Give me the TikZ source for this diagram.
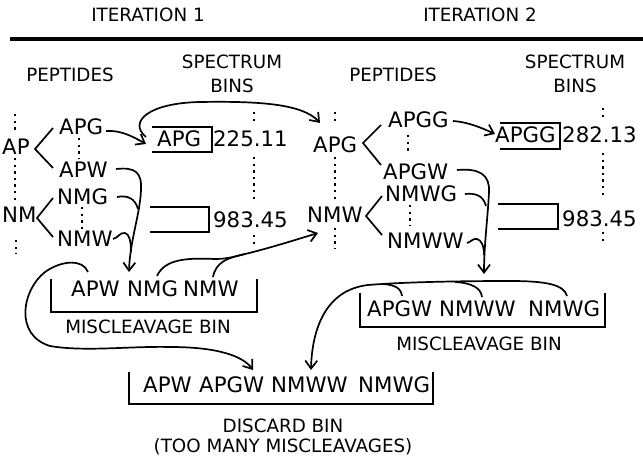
\documentclass[tikz,border=0pt]{standalone}
\usepackage{fontspec}
\setmainfont{DejaVu Sans}
\usetikzlibrary{arrows.meta}
\begin{document}
\begin{tikzpicture}[x=1pt,y=-1pt,
  lab/.style={font=\fontsize{21.3}{25}\selectfont, inner sep=0pt, anchor=base west},
  hdr/.style={font=\fontsize{18.3}{22}\selectfont, inner sep=0pt, anchor=base},
  dots/.style={line width=2.4pt, dash pattern=on 2.4pt off 4.2pt},
  ln/.style={line width=1.7pt},
  binbox/.style={line width=1.6pt},
  arr/.style={line width=1.7pt, -{Straight Barb[length=8pt,width=12pt]}},
]
\useasboundingbox (0,0) rectangle (643,462);

% headers
\node[hdr] (it1) at (148,22) {ITERATION 1};
\node[hdr] (it2) at (480,22) {ITERATION 2};
\coordinate (rulel) at (10,39);
\coordinate (ruler) at (643,39);
\draw[line width=4pt] (rulel) -- (ruler);
\node[hdr] (pep1) at (70,82) {PEPTIDES};
\node[hdr] (spec1) at (232,69) {SPECTRUM};
\node[hdr] (bins1) at (232,93) {BINS};
\node[hdr] (pep2) at (393,82) {PEPTIDES};
\node[hdr] (spec2) at (575,69) {SPECTRUM};
\node[hdr] (bins2) at (575,93) {BINS};

% iteration 1 peptides
\node[lab] (AP) at (2,155) {AP};
\node[lab] (APG) at (59,135) {APG};
\node[lab] (APW) at (59,178) {APW};
\node[lab] (NM) at (2,223) {NM};
\node[lab] (NMG) at (57,205) {NMG};
\node[lab] (NMW) at (57,247) {NMW};
\draw[ln] (53,128) -- (35,149) -- (53,168);
\draw[ln] (53,198) -- (37,218) -- (53,237);

% iteration 1 spectrum bins
\draw[binbox] (152,127) -- (212,127) -- (212,152) -- (152,152);
\node[lab] (bAPG) at (157,147) {APG};
\node[lab] (v225) at (213,147) {225.11};
\draw[binbox] (150,207) -- (209,207) -- (209,232) -- (150,232);
\node[lab] (v983a) at (213,228) {983.45};

% iteration 2 peptides
\node[lab] (APG2) at (313,153) {APG};
\node[lab] (APGG) at (388,128) {APGG};
\node[lab] (APGW) at (383,180) {APGW};
\node[lab] (NMW2) at (307,223) {NMW};
\node[lab] (NMWG) at (385,202) {NMWG};
\node[lab] (NMWW) at (387,249) {NMWW};
\draw[ln] (381,125) -- (363,143) -- (381,165);
\draw[ln] (382,196) -- (366,216) -- (382,235);

% iteration 2 spectrum bins
\draw[binbox] (500,123) -- (560,123) -- (560,149) -- (500,149);
\node[lab] (bAPGG) at (495,143) {APGG};
\node[lab] (v282) at (562,143) {282.13};
\draw[binbox] (498,204) -- (558,204) -- (558,229) -- (498,229);
\node[lab] (v983b) at (562,227) {983.45};

% dotted lines
\draw[dots] (15,114) -- (15,132);
\draw[dots] (15,158) -- (15,203);
\draw[dots] (16,240) -- (16,254);
\draw[dots] (79,138) -- (79,159);
\draw[dots] (82,207) -- (82,229);
\draw[dots] (254,112) -- (254,124);
\draw[dots] (254,157) -- (254,203);
\draw[dots] (254,235) -- (254,248);
\draw[dots] (335,112) -- (335,124);
\draw[dots] (335,157) -- (335,203);
\draw[dots] (335,228) -- (335,248);
\draw[dots] (408,135) -- (408,154);
\draw[dots] (410,205) -- (410,226);
\draw[dots] (603,108) -- (603,121);
\draw[dots] (603,153) -- (603,199);
\draw[dots] (603,232) -- (603,244);

% miscleavage bin 1
\draw[binbox] (51,279) -- (51,312) -- (257,312) -- (257,279);
\node[lab] (mAPW) at (71,297) {APW};
\node[lab] (mNMG) at (127,297) {NMG};
\node[lab] (mNMW) at (183,297) {NMW};
\node[hdr] (mlab1) at (148,334) {MISCLEAVAGE BIN};

% miscleavage bin 2
\draw[binbox] (360,293) -- (360,327) -- (605,327) -- (605,293);
\node[lab] (mAPGW) at (367,317) {APGW};
\node[lab] (mNMWW) at (439,317) {NMWW};
\node[lab] (mNMWG) at (528,317) {NMWG};
\node[hdr] (mlab2) at (479,351) {MISCLEAVAGE BIN};

% discard bin
\draw[binbox] (129,372) -- (129,404) -- (433,404) -- (433,372);
\node[lab] (dAPW) at (143,393) {APW};
\node[lab] (dAPGW) at (199,393) {APGW};
\node[lab] (dNMWW) at (271,393) {NMWW};
\node[lab] (dNMWG) at (358,393) {NMWG};
\node[hdr] (dlab1) at (283,432) {DISCARD BIN};
\node[hdr] (dlab2) at (283,453) {(TOO MANY MISCLEAVAGES)};

% connector end points
\coordinate (APGr) at (106,131);
\coordinate (box1in) at (146,144);
\coordinate (box1out) at (146,137);
\coordinate (APG2in) at (320,123);
\coordinate (APWr) at (116,169);
\coordinate (NMGr) at (117,197);
\coordinate (NMWr) at (113,239);
\coordinate (mbin1in) at (129,272);
\coordinate (APGGr) at (453,121);
\coordinate (box3in) at (495,134);
\coordinate (APGWr) at (457,170);
\coordinate (NMWGr) at (465,194);
\coordinate (NMWWr) at (467,243);
\coordinate (mbin2in) at (484,274);
\coordinate (mNMWt) at (213,277);
\coordinate (mNMGt) at (157,276);
\coordinate (NMW2in) at (318,233);
\coordinate (mAPWt) at (88,272);
\coordinate (dbinin1) at (253,370);
\coordinate (mNMWGt) at (567,296);
\coordinate (mAPGWt) at (402,296);
\coordinate (mNMWWt) at (482,297);
\coordinate (dbinin2) at (311,370);

% connectors, iteration 1
\draw[arr] (APGr) .. controls (120,130) and (132,136) .. (box1in);
\draw[arr] (box1out) .. controls (128,122) and (148,103) .. (200,102)
  .. controls (260,101) and (303,104) .. (APG2in);
\draw[arr] (APWr) .. controls (135,167) and (142,172) .. (141,190)
  .. controls (140,215) and (130,240) .. (mbin1in);
\draw[ln] (NMGr) .. controls (127,195) and (135,198) .. (138,209);
\draw[ln] (NMWr) .. controls (118,238) and (120,232) .. (125,233)
  .. controls (129,234) and (131,240) .. (131,252);

% connectors, iteration 2
\draw[arr] (APGGr) .. controls (468,122) and (482,128) .. (box3in);
\draw[arr] (APGWr) .. controls (480,168) and (490,175) .. (489,192)
  .. controls (488,215) and (484,245) .. (mbin2in);
\draw[ln] (NMWGr) .. controls (475,193) and (483,195) .. (486,206);
\draw[ln] (NMWWr) .. controls (471,242) and (473,238) .. (477,239)
  .. controls (481,240) and (484,245) .. (484,255);

% miscleavage bin 1 -> iteration 2
\draw[arr] (mNMWt) .. controls (216,262) and (227,258) .. (245,254)
  .. controls (270,248) and (295,240) .. (NMW2in);
\draw[ln] (mNMGt) .. controls (165,258) and (190,258) .. (215,259)
  .. controls (228,259) and (237,256) .. (245,254);

% miscleavage bins -> discard bin
\draw[arr] (mAPWt) .. controls (83,259) and (62,260) .. (45,272)
  .. controls (22,290) and (14,335) .. (50,346)
  .. controls (85,352) and (130,346) .. (170,347)
  .. controls (215,347) and (242,355) .. (dbinin1);
\draw[arr] (mNMWGt) .. controls (564,285) and (548,281) .. (510,281)
  .. controls (460,281) and (405,282) .. (368,285)
  .. controls (325,290) and (312,330) .. (dbinin2);
\draw[ln] (mAPGWt) .. controls (401,288) and (395,285) .. (383,284);
\draw[ln] (mNMWWt) .. controls (481,288) and (472,283) .. (455,282);
\end{tikzpicture}
\end{document}
